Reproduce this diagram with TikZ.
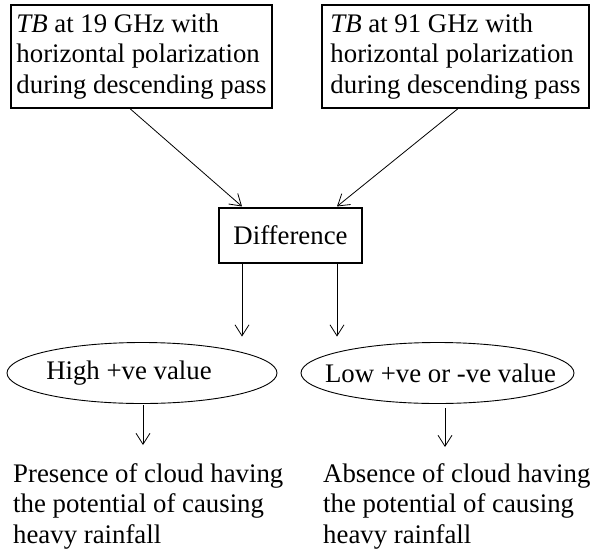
\documentclass[tikz,border=0pt]{standalone}
\usepackage{fontspec}
\setmainfont{Liberation Serif}
\usetikzlibrary{shapes.geometric,arrows.meta,calc}
\begin{document}
\begin{tikzpicture}[x=1pt,y=-1pt,
  every node/.style={font=\fontsize{26.8pt}{30.5pt}\selectfont},
  srcbox/.style={draw,line width=1.3pt,align=left,inner sep=0pt,minimum height=103pt},
  diffbox/.style={draw,line width=1.1pt,minimum width=143pt,minimum height=55pt,inner sep=0pt},
  oval/.style={draw,ellipse,line width=0.9pt,inner sep=0pt,minimum height=61pt},
  result/.style={align=left,inner sep=0pt,anchor=north west},
  flow/.style={line width=0.8pt,-{Straight Barb[length=11pt,width=14pt,line width=0.8pt]}}
]
\useasboundingbox (0,0) rectangle (591,552);
\node[srcbox,minimum width=261pt] (b1) at (141.5,56.5) {\textit{TB} at 19 GHz with\\horizontal polarization\\during descending pass};
\node[srcbox,minimum width=267pt] (b2) at (455.5,56.5) {\textit{TB} at 91 GHz with\\horizontal polarization\\during descending pass};
\node[diffbox] (d) at (290.5,235.5) {Difference};
\node[oval,minimum width=270pt] (e1) at (142,373) {\makebox[0pt]{High +ve value\hspace*{26pt}}};
\node[oval,minimum width=273pt] (e2) at (437.5,373) {\makebox[0pt]{\hspace*{6pt}Low +ve or -ve value}};
\node[result] (t1) at (13,463) {Presence of cloud having\\the potential of causing\\heavy rainfall};
\node[result] (t2) at (323,463) {Absence of cloud having\\the potential of causing\\heavy rainfall};
\coordinate (s1) at ($(b1.south)+(-11.5,0)$);
\coordinate (s2) at ($(b2.south)+(2.5,0)$);
\coordinate (i1) at ($(d.north)+(-48.5,-1)$);
\coordinate (i2) at ($(d.north)+(46.5,-1)$);
\coordinate (d1) at ($(d.south)+(-48.5,0)$);
\coordinate (d2) at ($(d.south)+(46.5,0)$);
\coordinate (o1) at ($(e1.south)+(1,1.5)$);
\coordinate (o2) at ($(e2.south)+(7.5,4.5)$);
\draw[flow] (s1) -- (i1);
\draw[flow] (s2) -- (i2);
\draw[flow,shorten >=5.5pt] (d1) -- (d1 |- e1.north);
\draw[flow,shorten >=5.5pt] (d2) -- (d2 |- e2.north);
\draw[flow,shorten >=18pt] (o1) -- (o1 |- t1.north);
\draw[flow,shorten >=16pt] (o2) -- (o2 |- t2.north);
\end{tikzpicture}
\end{document}
